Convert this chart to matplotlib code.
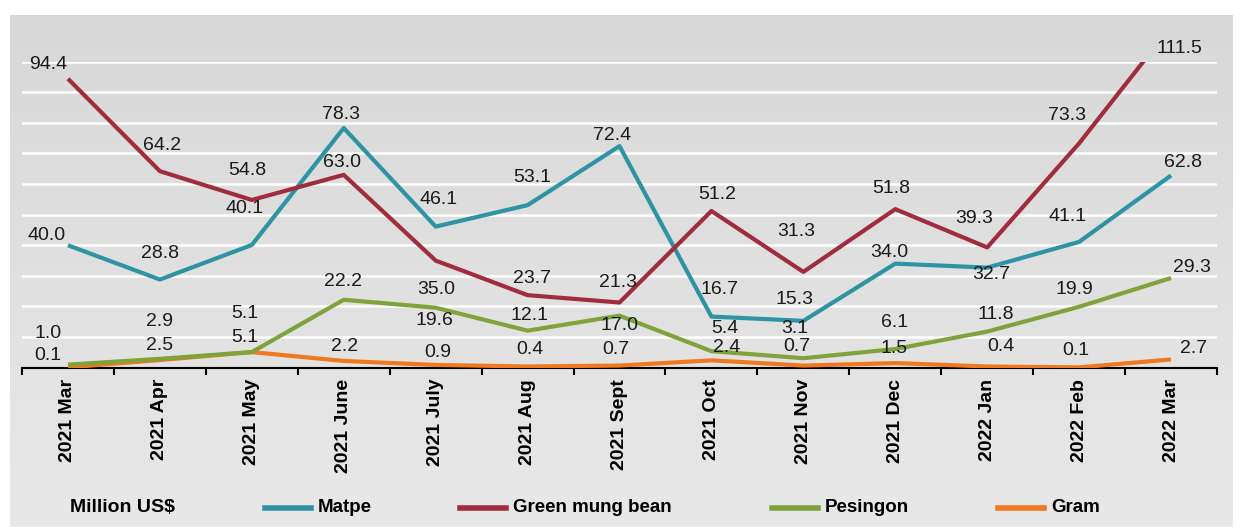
import numpy as np
import matplotlib
matplotlib.use("Agg")
import matplotlib.pyplot as plt
from matplotlib.lines import Line2D

plt.rcParams['font.family'] = ['Liberation Sans', 'DejaVu Sans']

months = ["2021 Mar", "2021 Apr", "2021 May", "2021 June", "2021 July", "2021 Aug",
          "2021 Sept", "2021 Oct", "2021 Nov", "2021 Dec", "2022 Jan", "2022 Feb", "2022 Mar"]
matpe = [40.0, 28.8, 40.1, 78.3, 46.1, 53.1, 72.4, 16.7, 15.3, 34.0, 32.7, 41.1, 62.8]
mung = [94.4, 64.2, 54.8, 63.0, 35.0, 23.7, 21.3, 51.2, 31.3, 51.8, 39.3, 73.3, 111.5]
pesingon = [1.0, 2.9, 5.1, 22.2, 19.6, 12.1, 17.0, 5.4, 3.1, 6.1, 11.8, 19.9, 29.3]
gram = [0.1, 2.5, 5.1, 2.2, 0.9, 0.4, 0.7, 2.4, 0.7, 1.5, 0.4, 0.1, 2.7]

# label offsets in pixels (dx, dy up)
off_matpe = [(-21, 10), (0, 26), (-7, 36), (-3, 14), (3, 27), (5, 28), (-7, 11), (8, 27),
             (-9, 21), (-6, 11), (4, -7), (-12, 25), (12, 13)]
off_mung = [(-20, 14), (2, 26), (-5, 29), (-2, 12), (1, -29), (4, 17), (-2, 20), (6, 16),
            (-7, 40), (-4, 21), (-13, 29), (-12, 28), (8, -22)]
off_pes = [(-20, 31), (0, 37), (-7, 39), (-1, 18), (-1, -13), (2, 15), (0, -10), (13, 23),
           (-9, 30), (-1, 27), (9, 17), (-5, 17), (21, 11)]
off_gram = [(-20, 12), (0, 15), (-7, 15), (1, 14), (2, 12), (2, 17), (-4, 16), (15, 13),
            (-7, 19), (-1, 15), (14, 20), (-3, 17), (23, 11)]

C_MATPE = "#2e93a3"
C_MUNG = "#a02c3e"
C_PES = "#7fa33a"
C_GRAM = "#f07820"

W, H = 1242, 530
fig = plt.figure(figsize=(W / 100, H / 100), dpi=100)
fig.patch.set_facecolor("white")

# gray gradient background panel
bg = fig.add_axes([10 / W, 1 - 527 / H, (1233 - 10) / W, (527 - 15) / H])
grad = np.linspace(0, 1, 256).reshape(-1, 1)
c_top = np.array([0xd8, 0xd8, 0xd8]) / 255
c_bot = np.array([0xe8, 0xe8, 0xe8]) / 255
img = c_top[None, None, :] * (1 - grad[:, :, None]) + c_bot[None, None, :] * grad[:, :, None]
bg.imshow(img, aspect="auto", extent=[0, 1, 0, 1])
bg.set_axis_off()
bg.set_zorder(-10)

ax = fig.add_axes([22 / W, 1 - 367.7 / H, (1217 - 22) / W, 306.1 / H])
ax.set_facecolor("none")
x = np.arange(len(months))
ax.set_xlim(-0.5, len(months) - 0.5)
ax.set_ylim(0, 100)
ax.set_yticks(np.arange(10, 101, 10))
ax.yaxis.grid(True, color="white", linewidth=1.8)
ax.set_axisbelow(True)
ax.tick_params(axis="y", left=False, labelleft=False)
for s in ["left", "right", "top"]:
    ax.spines[s].set_visible(False)
ax.spines["bottom"].set_linewidth(1.5)
ax.spines["bottom"].set_color("black")
ax.spines["bottom"].set_zorder(1)

ax.set_xticks(x)
ax.set_xticklabels(months, rotation=90, fontsize=14, fontweight="bold", va="top")
ax.tick_params(axis="x", which="major", length=0, pad=8)
ax.set_xticks(np.arange(-0.5, len(months), 1), minor=True)
ax.tick_params(axis="x", which="minor", length=5, width=1.5, direction="out")

series = [(gram, C_GRAM, off_gram), (pesingon, C_PES, off_pes),
          (matpe, C_MATPE, off_matpe), (mung, C_MUNG, off_mung)]
for vals, col, offs in series:
    ax.plot(x, vals, color=col, linewidth=3, solid_capstyle="butt", zorder=3)
for vals, col, offs in series:
    for xi, v, (dx, dy) in zip(x, vals, offs):
        ax.annotate(f"{v:.1f}", (xi, v), xytext=(dx, dy), textcoords="offset pixels",
                    ha="center", va="center", fontsize=14, color="#1a1a1a",
                    annotation_clip=False, zorder=5)

# legend row
ly = 1 - 508 / H
fig.text(70 / W, ly, "Million US$", fontsize=14, fontweight="bold", ha="left", va="center")
legend_items = [("Matpe", C_MATPE, 265), ("Green mung bean", C_MUNG, 460),
                ("Pesingon", C_PES, 772), ("Gram", C_GRAM, 998)]
for name, col, xp in legend_items:
    fig.add_artist(Line2D([xp / W, (xp + 46) / W], [ly, ly], color=col, linewidth=4,
                          transform=fig.transFigure))
    fig.text((xp + 53) / W, ly, name, fontsize=13.5, fontweight="bold", ha="left", va="center")

fig.savefig("out.png", dpi=100)
